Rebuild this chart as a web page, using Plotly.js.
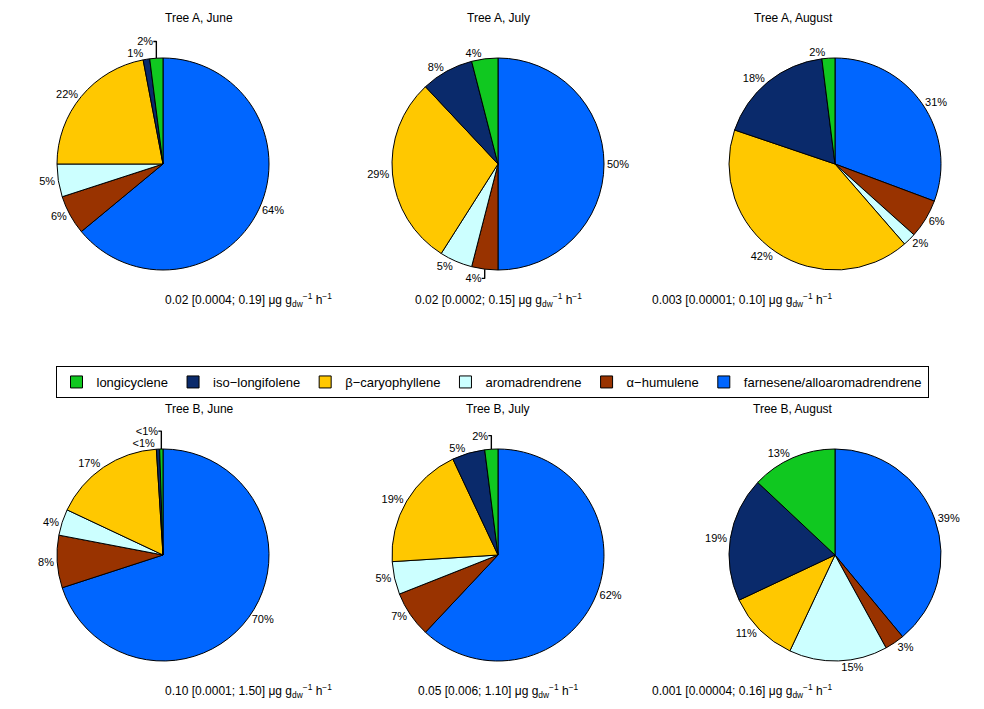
<!DOCTYPE html>
<html>
<head>
<script src="https://cdn.plot.ly/plotly-3.0.1.min.js"></script>
<style>body{margin:0;background:#fff}</style>
</head>
<body>
<div id="plot" style="width:984px;height:709px"></div>
<script>
// Compounds, in clockwise order from 12 o'clock
var compounds = ['farnesene/alloaromadrendrene', '\u03b1\u2212humulene', 'aromadrendrene',
                 '\u03b2\u2212caryophyllene', 'iso\u2212longifolene', 'longicyclene'];
var colors = ['#0066ff', '#993300', '#ccffff', '#ffc800', '#0a2a6b', '#10c820'];

var titles = ['Tree A, June', 'Tree A, July', 'Tree A, August',
              'Tree B, June', 'Tree B, July', 'Tree B, August'];
var aJune = [64, 6, 5, 22, 1, 2];
var aJuly = [50, 4, 5, 29, 8, 4];
var aAug = [31, 6, 2, 42, 18, 2];
var bJune = [70, 8, 4, 17, 0.5, 0.5];
var bJuly = [62, 7, 5, 19, 5, 2];
var bAug = [39, 3, 15, 11, 19, 13];
var values = [aJune, aJuly, aAug, bJune, bJuly, bAug];
var totals = ['0.02 [0.0004; 0.19]', '0.02 [0.0002; 0.15]', '0.003 [0.00001; 0.10]',
              '0.10 [0.0001; 1.50]', '0.05 [0.006; 1.10]', '0.001 [0.00004; 0.16]'];

var W = 984, H = 709;
var cx = [163, 498, 835];
var cy = [164, 555];
var r = 106;

var data = [];
var annotations = [];
values.forEach(function(v, i) {
    var x = cx[i % 3], y = cy[Math.floor(i / 3)];
    data.push({
        type: 'pie',
        labels: compounds,
        values: v,
        text: v.map(function(p) { return p < 1 ? '<1%' : p + '%'; }),
        textinfo: 'text',
        textposition: 'outside',
        sort: false,
        direction: 'clockwise',
        rotation: 0,
        marker: {colors: colors, line: {color: '#000', width: 1}},
        textfont: {size: 11, color: '#000'},
        domain: {x: [(x - r) / W, (x + r) / W], y: [1 - (y + r) / H, 1 - (y - r) / H]},
        hoverinfo: 'label+percent'
    });
    annotations.push({
        text: titles[i], x: x / W, y: 1 - (y - r - 40) / H, xref: 'paper', yref: 'paper',
        yanchor: 'middle', showarrow: false, font: {size: 12}
    });
    annotations.push({
        text: totals[i] + ' \u03bcg g<sub>dw</sub><sup>\u22121</sup> h<sup>\u22121</sup>',
        x: x / W, y: 1 - (y + r + 30) / H, xref: 'paper', yref: 'paper',
        yanchor: 'middle', showarrow: false, font: {size: 12}
    });
});

var layout = {
    margin: {l: 0, r: 0, t: 0, b: 0},
    font: {family: 'Liberation Sans, Arial, sans-serif', color: '#000', size: 12},
    showlegend: true,
    legend: {
        orientation: 'h', x: 0.5, xanchor: 'center', y: 1 - 366 / H, yanchor: 'top',
        bordercolor: '#000', borderwidth: 1, traceorder: 'reversed', font: {size: 13},
        itemwidth: 30, tracegroupgap: 0
    },
    annotations: annotations,
    paper_bgcolor: '#fff'
};

Plotly.newPlot('plot', data, layout, {displayModeBar: false});
</script>
</body>
</html>
